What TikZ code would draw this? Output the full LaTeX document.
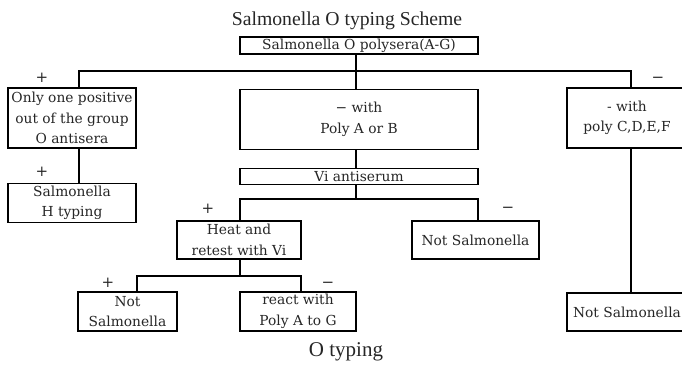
\documentclass[tikz,border=0pt]{standalone}
\usepackage{fontspec}
\setmainfont{Liberation Serif}
\newfontfamily\schemefont{DejaVu Serif}
\usetikzlibrary{positioning}

\begin{document}
\begin{tikzpicture}
[x=1pt, y=-1pt, line width=1.1pt, font=\schemefont\fontsize{13.8}{20.5}\selectfont,
% STYLES
% The schemebox style is used for every step of the scheme
schemebox/.style={rectangle, draw, inner sep=0pt, align=center, text=black!85},
% the outcome marks (+ and -) above the boxes
sign/.style={inner sep=0pt, font=\schemefont\fontsize{15}{15}\selectfont, text=black!85},
% title and caption of the scheme
caption/.style={inner sep=0pt, font=\rmfamily\fontsize{19.7}{22}\selectfont, text=black!85}]

\useasboundingbox (0,0) rectangle (682,365);
\clip (0,0) rectangle (682,365);

% Draw boxes
\node [caption] (title) at (347,21) {Salmonella O typing Scheme};
\node [schemebox, minimum width=238pt, minimum height=17pt] (polysera) at (359,45.5) {Salmonella O polysera(A-G)};

\node [schemebox, minimum width=238pt, minimum height=60pt, below=34pt of polysera] (polyAB) {− with\\Poly A or B};
\node [schemebox, minimum width=128pt, minimum height=60pt] (onepos) at (72,118) {Only one positive\\out of the group\\O antisera};
\node [schemebox, minimum width=120pt, minimum height=60pt] (polyCF) at (627,118) {- with\\poly C,D,E,F};

\node [schemebox, minimum width=128pt, minimum height=39pt, below=34pt of onepos] (htyping) {Salmonella\\H typing};
\node [schemebox, minimum width=238pt, minimum height=16pt, below=18pt of polyAB] (vi) {Vi antiserum};

\node [schemebox, minimum width=124pt, minimum height=38pt] (heat) at (239,240) {Heat and\\retest with Vi};
\node [schemebox, minimum width=127pt, minimum height=38pt] (notvi) at (475.5,240) {Not Salmonella};

\node [schemebox, minimum width=99pt, minimum height=39pt] (notheat) at (127.5,311.5) {Not\\Salmonella};
\node [schemebox, minimum width=116pt, minimum height=39pt] (react) at (298,311.5) {react with\\Poly A to G};
\node [schemebox, minimum width=120pt, minimum height=38pt] (notCF) at (627,312) {Not Salmonella};

\node [caption, font=\rmfamily\fontsize{21}{24}\selectfont] (otyping) at (346,352) {O typing};

%%%%%%%%%%%%%%%

% outcome marks
\node [sign] (plus1) at (42,78) {+};
\node [sign] (minus1) at (658,80) {−};
\node [sign] (plus2) at (42,172) {+};
\node [sign] (plus3) at (208,209) {+};
\node [sign] (minus2) at (508,210) {−};
\node [sign] (plus4) at (108,283) {+};
\node [sign] (minus3) at (328,285) {−};

%%%%%%%%%%%%%%%

\coordinate (split1) at (356,71);
\coordinate (split2) at (356,199);
\coordinate (split3) at (240,276);

\draw (polysera.south -| split1) -- (polyAB.north -| split1);
\draw ([xshift=7pt]onepos.north) |- (split1) -| ([xshift=4pt]polyCF.north);
\draw ([xshift=7pt]onepos.south) -- ([xshift=7pt]htyping.north);
\draw (polyAB.south -| split1) -- (vi.north -| split1);
\draw (vi.south -| split2) -- (split2);
\draw ([xshift=1pt]heat.north) |- (split2) -| ([xshift=2.5pt]notvi.north);
\draw ([xshift=1pt]heat.south) -- (split3);
\draw ([xshift=9.5pt]notheat.north) |- (split3) -| ([xshift=3pt]react.north);
\draw ([xshift=4pt]polyCF.south) -- ([xshift=4pt]notCF.north);

\end{tikzpicture}
\end{document}
